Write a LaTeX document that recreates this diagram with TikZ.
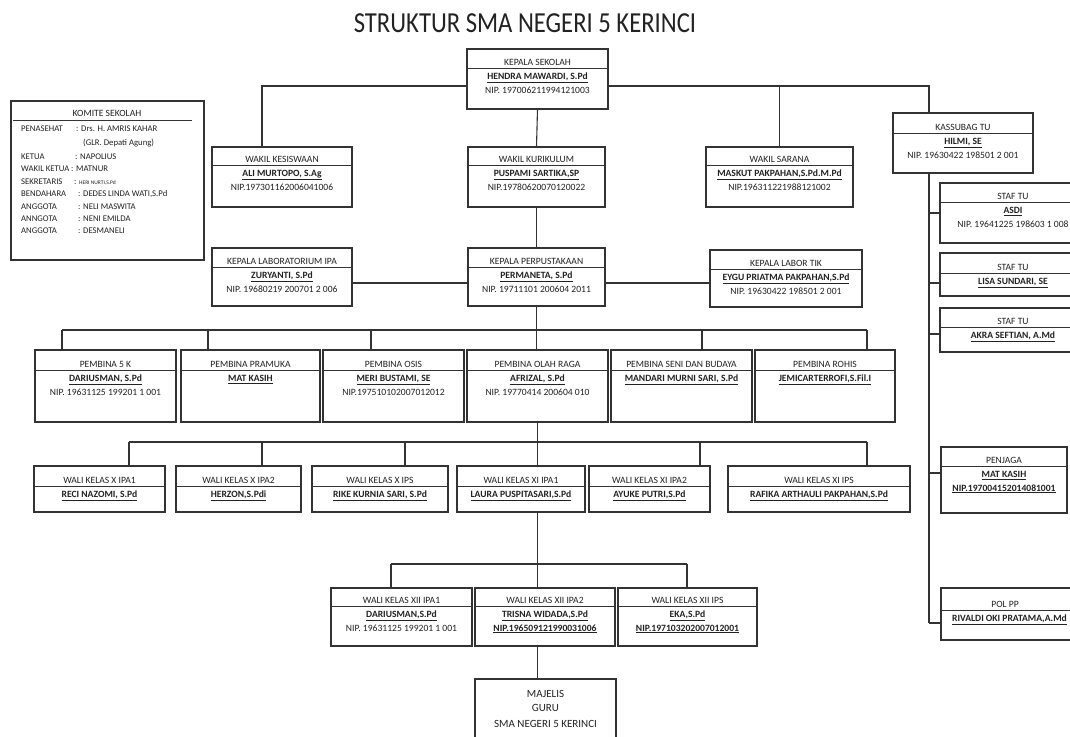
\documentclass[tikz,border=0pt]{standalone}
\usepackage{fontspec}
\setmainfont{Carlito}
\newfontfamily\titlefont[FakeStretch=0.85]{Carlito}
\usetikzlibrary{calc}
\definecolor{ink}{HTML}{222222}
\definecolor{lc}{HTML}{333333}
\tikzset{
  ln/.style={draw=lc, line width=1.1pt},
  boxst/.style={draw=lc, line width=1.1pt, inner sep=0pt, outer sep=0pt},
  divst/.style={draw=lc, line width=0.9pt},
  txt/.style={anchor=base, inner sep=0pt, text=ink, font=\fontsize{9.6}{11}\selectfont},
  ktxt/.style={anchor=base west, inner sep=0pt, text=ink, font=\fontsize{8.7}{10}\selectfont},
}
\newcommand{\bnm}[1]{\textbf{\underline{#1}}}
% #1 name, #2 x1, #3 y1, #4 x2, #5 y2, #6 divider y, #7 title, #8 line1, #9 line2
\newcommand{\orgbox}[9]{%
  \node[boxst, anchor=north west, minimum width={(#4-#2)*1pt}, minimum height={(#5-#3)*1pt}] (#1) at (#2,#3) {};
  \draw[divst] (#2,#6) -- (#4,#6);
  \node[txt] (#1-t) at ({(#2+#4)/2},#6-3) {#7};
  \if\relax\detokenize{#8}\relax\else\node[txt] (#1-a) at ({(#2+#4)/2},#6+11.5) {#8};\fi
  \if\relax\detokenize{#9}\relax\else\node[txt] (#1-b) at ({(#2+#4)/2},#6+25) {#9};\fi
}
\begin{document}
\begin{tikzpicture}[x=1pt,y=-1pt]
\useasboundingbox (0,0) rectangle (1070,736);
\fill[white] (0,0) rectangle (1070,736);
\clip (0,0) rectangle (1070,736);

\node[anchor=base, inner sep=0pt, text=ink, font=\titlefont\fontsize{29}{32}\selectfont] (title) at (525,32) {STRUKTUR SMA NEGERI 5 KERINCI};

% Komite
\node[boxst, anchor=north west, minimum width=193pt, minimum height=159pt] (komite) at (11,101) {};
\draw[divst] (13,120) -- (192,120);
\node[txt] (komite-t) at (107,116) {KOMITE SEKOLAH};
\node[ktxt] (k1l) at (21,131) {PENASEHAT};
\node[ktxt] (k1v) at (76,131) {: Drs. H. AMRIS KAHAR};
\node[ktxt] (k1w) at (83,145) {(GLR. Depati Agung)};
\node[ktxt] (k2l) at (21,159) {KETUA};
\node[ktxt] (k2v) at (75,159) {: NAPOLIUS};
\node[ktxt] (k3l) at (21,171) {WAKIL KETUA};
\node[ktxt] (k3v) at (71,171) {: MATNUR};
\node[ktxt] (k4l) at (21,184) {SEKRETARIS};
\node[ktxt] (k4v) at (74,184) {: {\fontsize{5.5}{6}\selectfont HERI NURTI,S.Pd}};
\node[ktxt] (k5l) at (21,196) {BENDAHARA};
\node[ktxt] (k5v) at (78,196) {: DEDES LINDA WATI,S.Pd};
\node[ktxt] (k6l) at (21,209) {ANGGOTA};
\node[ktxt] (k6v) at (78,209) {: NELI MASWITA};
\node[ktxt] (k7l) at (21,221) {ANNGOTA};
\node[ktxt] (k7v) at (78,221) {: NENI EMILDA};
\node[ktxt] (k8l) at (21,233) {ANGGOTA};
\node[ktxt] (k8v) at (78,233) {: DESMANELI};

% Top
\orgbox{kepsek}{467}{49}{608}{109}{68}{KEPALA SEKOLAH}{\bnm{HENDRA MAWARDI, S.Pd}}{NIP. 197006211994121003}
\orgbox{wkes}{212}{147}{352}{207}{165}{WAKIL KESISWAAN}{\bnm{ALI MURTOPO, S.Ag}}{NIP.197301162006041006}
\orgbox{wkur}{468}{147}{605}{207}{165}{WAKIL KURIKULUM}{\bnm{PUSPAMI SARTIKA,SP}}{NIP.19780620070120022}
\orgbox{wsar}{706}{147}{853}{207}{165}{WAKIL SARANA}{\bnm{MASKUT PAKPAHAN,S.Pd.M.Pd}}{NIP.196311221988121002}
\orgbox{kassubag}{893}{113}{1033}{173}{133}{KASSUBAG TU}{\bnm{HILMI, SE}}{NIP. 19630422 198501 2 001}
\orgbox{staf1}{940}{183}{1086}{243}{202}{STAF TU}{\bnm{ASDI}}{NIP. 19641225 198603 1 008}
\orgbox{staf2}{940}{253}{1086}{296}{273}{STAF TU}{\bnm{LISA SUNDARI, SE}}{}
\orgbox{staf3}{940}{308}{1086}{352}{327}{STAF TU}{\bnm{AKRA SEFTIAN, A.Md}}{}
\orgbox{penjaga}{941}{447}{1067}{513}{466}{PENJAGA}{\bnm{MAT KASIH}}{\bnm{NIP.197004152014081001}}
\node[boxst, anchor=north west, minimum width=140pt, minimum height=52pt] (polpp) at (941,588) {};
\draw[divst] (941,610) -- (1081,610);
\node[txt] (polpp-t) at (1005,607) {POL PP};
\node[txt, anchor=base west] (polpp-a) at (952,621) {\bnm{RIVALDI OKI PRATAMA,A.Md}};

% Lab row
\orgbox{labipa}{212}{248}{352}{306}{267}{KEPALA LABORATORIUM IPA}{\bnm{ZURYANTI, S.Pd}}{NIP. 19680219 200701 2 006}
\orgbox{perpus}{468}{248}{605}{306}{267}{KEPALA PERPUSTAKAAN}{\bnm{PERMANETA, S.Pd}}{NIP. 19711101 200604 2011}
\orgbox{tik}{710}{250}{862}{307}{269}{KEPALA LABOR TIK}{\bnm{EYGU PRIATMA PAKPAHAN,S.Pd}}{NIP. 19630422 198501 2 001}

% Pembina row
\orgbox{p5k}{35}{350}{176}{422}{370}{PEMBINA 5 K}{\bnm{DARIUSMAN, S.Pd}}{NIP. 19631125 199201 1 001}
\orgbox{ppram}{181}{350}{320}{422}{370}{PEMBINA PRAMUKA}{\bnm{MAT KASIH}}{}
\orgbox{posis}{323}{350}{464}{422}{370}{PEMBINA OSIS}{\bnm{MERI BUSTAMI, SE}}{NIP.197510102007012012}
\orgbox{polah}{467}{350}{608}{422}{370}{PEMBINA OLAH RAGA}{\bnm{AFRIZAL, S.Pd}}{NIP. 19770414 200604 010}
\orgbox{pseni}{611}{350}{752}{422}{370}{PEMBINA SENI DAN BUDAYA}{\bnm{MANDARI MURNI SARI, S.Pd}}{}
\orgbox{prohis}{755}{350}{895}{422}{370}{PEMBINA ROHIS}{\bnm{JEMICARTERROFI,S.Fil.I}}{}

% Wali X / XI
\orgbox{wk10a}{34}{466}{165}{512}{486}{WALI KELAS X IPA1}{\bnm{RECI NAZOMI, S.Pd}}{}
\orgbox{wk10b}{176}{466}{301}{512}{486}{WALI KELAS X IPA2}{\bnm{HERZON,S.Pdi}}{}
\orgbox{wk10c}{312}{466}{448}{512}{486}{WALI KELAS X IPS}{\bnm{RIKE KURNIA SARI, S.Pd}}{}
\orgbox{wk11a}{457}{466}{585}{512}{486}{WALI KELAS XI IPA1}{\bnm{LAURA PUSPITASARI,S.Pd}}{}
\orgbox{wk11b}{589}{466}{710}{512}{486}{WALI KELAS XI IPA2}{\bnm{AYUKE PUTRI,S.Pd}}{}
\orgbox{wk11c}{728}{466}{910}{512}{486}{WALI KELAS XI IPS}{\bnm{RAFIKA ARTHAULI PAKPAHAN,S.Pd}}{}

% Wali XII
\orgbox{wk12a}{331}{588}{472}{646}{606}{WALI KELAS XII IPA1}{\bnm{DARIUSMAN,S.Pd}}{NIP. 19631125 199201 1 001}
\orgbox{wk12b}{475}{588}{615}{646}{606}{WALI KELAS XII IPA2}{\bnm{TRISNA WIDADA,S.Pd}}{\bnm{NIP.196509121990031006}}
\orgbox{wk12c}{618}{588}{757}{646}{606}{WALI KELAS XII IPS}{\bnm{EKA,S.Pd}}{\bnm{NIP.197103202007012001}}

% Majelis
\node[boxst, anchor=north west, minimum width=141pt, minimum height=80pt] (majelis) at (475,679) {};
\node[txt, font=\fontsize{11}{13}\selectfont] (maj1) at (545.5,697) {MAJELIS};
\node[txt, font=\fontsize{11}{13}\selectfont] (maj2) at (545.5,711) {GURU};
\node[txt, font=\fontsize{11}{13}\selectfont] (maj3) at (545.5,727) {SMA NEGERI 5 KERINCI};

% ---------- connectors ----------
\coordinate (wkes-c) at ($(wkes.north west)+(50,0)$);
\coordinate (tus-top) at ($(kassubag.north west)+(36,0)$);
\coordinate (tus-bot) at ($(kassubag.south west)+(36,0)$);
\draw[ln] ($(kepsek.west)+(0,7)$) -| (wkes-c);
\draw[ln] ($(kepsek.east)+(0,7)$) -| (tus-top);
\draw[ln] (wsar.north) -- ($(wsar.north |- kepsek.east)+(0,7)$);
\draw[ln] (kepsek.south) -- (wkur.north);
\draw[ln] (wkur.south) -- (perpus.north);
\draw[ln] ($(labipa.east)+(0,6)$) -- ($(perpus.west)+(0,6)$);
\draw[ln] ($(perpus.east)+(0,6)$) coordinate (pe) -- (pe -| tik.west);

% pembina bus
\coordinate (pbus) at ($(perpus.south)+(0,24)$);
\coordinate (p5k-c) at ($(p5k.north west)+(27,0)$);
\coordinate (ppram-c) at ($(ppram.north west)+(27,0)$);
\coordinate (posis-c) at ($(posis.north west)+(48,0)$);
\coordinate (pseni-c) at ($(pseni.north west)+(91,0)$);
\coordinate (prohis-c) at ($(prohis.north west)+(112,0)$);
\draw[ln] (perpus.south) -- (pbus);
\draw[ln] (p5k-c |- pbus) -- (prohis-c |- pbus);
\foreach \c in {p5k-c, ppram-c, posis-c, pseni-c, prohis-c}
  \draw[ln] (\c) -- (\c |- pbus);
\draw[ln] (pbus) -- (polah.north -| pbus);

% wali bus
\coordinate (wbus) at ($(polah.south)+(0,20)$);
\coordinate (wk10a-c) at ($(wk10a.north west)+(95,0)$);
\coordinate (wk10b-c) at ($(wk10b.north west)+(86,0)$);
\coordinate (wk10c-c) at ($(wk10c.north west)+(93,0)$);
\coordinate (wk11b-c) at ($(wk11b.north west)+(111,0)$);
\coordinate (wk11c-c) at ($(wk11c.north west)+(139,0)$);
\draw[ln] (polah.south) -- (wk11a.north -| polah.south);
\draw[ln] (wk10a-c |- wbus) -- (wk11c-c |- wbus);
\foreach \c in {wk10a-c, wk10b-c, wk10c-c, wk11b-c, wk11c-c}
  \draw[ln] (\c) -- (\c |- wbus);

% XII bus
\coordinate (xbus) at ($(wk11a.south -| polah.south)+(0,52)$);
\coordinate (wk12a-c) at ($(wk12a.north west)+(60,0)$);
\coordinate (wk12c-c) at ($(wk12c.north west)+(69,0)$);
\draw[ln] (wk11a.south -| polah.south) -- (wk12b.north -| polah.south);
\draw[ln] (wk12a-c |- xbus) -- (wk12c-c |- xbus);
\draw[ln] (wk12a-c) -- (wk12a-c |- xbus);
\draw[ln] (wk12c-c) -- (wk12c-c |- xbus);
\draw[ln] (wk12b.south -| polah.south) -- (majelis.north -| polah.south);

% TU spine
\coordinate (polpp-c) at ($(polpp.north west)+(0,35)$);
\draw[ln] (tus-bot) -- (tus-bot |- polpp-c);
\draw[ln] (staf1.west) -- (staf1.west -| tus-bot);
\draw[ln] ($(staf2.west)+(0,8.5)$) coordinate (s2) -- (s2 -| tus-bot);
\draw[ln] ($(staf3.west)+(0,4)$) coordinate (s3) -- (s3 -| tus-bot);
\draw[ln] ($(penjaga.west)+(0,-7)$) coordinate (s4) -- (s4 -| tus-bot);
\draw[ln] (polpp-c) -- (polpp-c -| tus-bot);
\end{tikzpicture}
\end{document}
